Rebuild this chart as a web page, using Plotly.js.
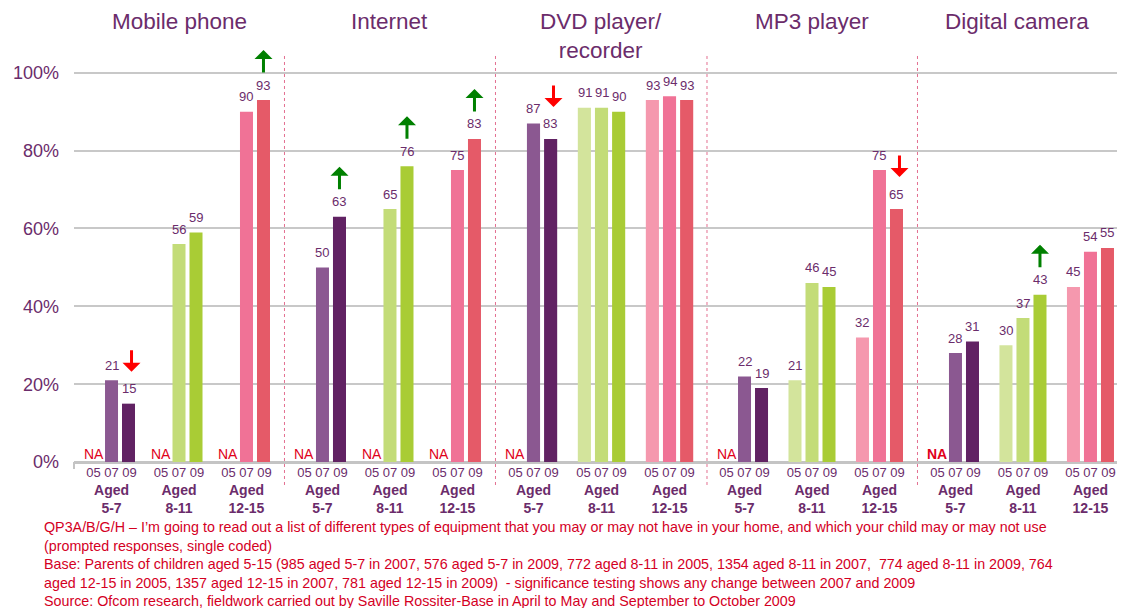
<!DOCTYPE html>
<html>
<head>
<meta charset="utf-8">
<script src="https://cdn.plot.ly/plotly-3.0.1.min.js"></script>
<style>html,body{margin:0;padding:0;background:#fff;}#chart{width:1125px;height:608px;}</style>
</head>
<body>
<div id="chart"></div>
<script>
// ---- data ----
const products = ["Mobile phone", "Internet", "DVD player/<br>recorder", "MP3 player", "Digital camera"];
const ageGroups = ["5-7", "8-11", "12-15"];
const years = ["05", "07", "09"];
const yTickVals = [0, 20, 40, 60, 80, 100];
const yTickText = ["0%", "20%", "40%", "60%", "80%", "100%"];

// values per age group (5-7, 8-11, 12-15); null = NA
const mobile05 = [null, null, null];
const mobile07 = [21, 56, 90];
const mobile09 = [15, 59, 93];
const internet05 = [null, null, null];
const internet07 = [50, 65, 75];
const internet09 = [63, 76, 83];
const dvd05 = [null, 91, 93];
const dvd07 = [87, 91, 94];
const dvd09 = [83, 90, 93];
const mp305 = [null, 21, 32];
const mp307 = [22, 46, 75];
const mp309 = [19, 45, 65];
const camera05 = [null, 30, 45];
const camera07 = [28, 37, 54];
const camera09 = [31, 43, 55];

// significance of change 2007 -> 2009
const mobileSig = ["down", "", "up"];
const internetSig = ["up", "up", "up"];
const dvdSig = ["down", "", ""];
const mp3Sig = ["", "", "down"];
const cameraSig = ["", "up", ""];

const footnote = [
  "QP3A/B/G/H \u2013 I\u2019m going to read out a list of different types of equipment that you may or may not have in your home, and which your child may or may not use",
  "(prompted responses, single coded)",
  "Base: Parents of children aged 5-15 (985 aged 5-7 in 2007, 576 aged 5-7 in 2009, 772 aged 8-11 in 2005, 1354 aged 8-11 in 2007,  774 aged 8-11 in 2009, 764",
  "aged 12-15 in 2005, 1357 aged 12-15 in 2007, 781 aged 12-15 in 2009)  - significance testing shows any change between 2007 and 2009",
  "Source: Ofcom research, fieldwork carried out by Saville Rossiter-Base in April to May and September to October 2009"
];

// ---- styling ----
const panelData = [
  [mobile05, mobile07, mobile09],
  [internet05, internet07, internet09],
  [dvd05, dvd07, dvd09],
  [mp305, mp307, mp309],
  [camera05, camera07, camera09]
];
const panelSig = [mobileSig, internetSig, dvdSig, mp3Sig, cameraSig];
const ageColors = [
  ["#8b5891", "#8b5891", "#612263"],
  ["#d3e49c", "#c3dc78", "#a9cc35"],
  ["#f598ae", "#f07296", "#e55a68"]
];
const PURPLE = "#6b2c6b";
const FONT = "Liberation Sans, Arial, sans-serif";
const domains = [[0, 0.2018], [0.2018, 0.4041], [0.4041, 0.6069], [0.6069, 0.8087], [0.8087, 1]];
const ranges = [[-0.556, 2.563], [-0.563, 2.563], [-0.559, 2.551], [-0.556, 2.563], [-0.563, 2.393]];
const PITCH = 17;

const axId = k => (k === 0 ? "x" : "x" + (k + 1));
const axKey = k => (k === 0 ? "xaxis" : "xaxis" + (k + 1));

const traces = [];
const annotations = [];
const shapes = [];
const layout = {
  width: 1125, height: 608,
  margin: {l: 74, r: 8, t: 65, b: 144},
  paper_bgcolor: "#fff", plot_bgcolor: "#fff",
  font: {family: FONT, color: PURPLE},
  showlegend: false,
  barmode: "group",
  bargap: 0.244,
  bargroupgap: 0.235,
  yaxis: {
    anchor: "x",
    range: [-0.5, 102],
    tickvals: yTickVals, ticktext: yTickText,
    tickfont: {size: 18, color: PURPLE, family: FONT},
    showgrid: true, gridcolor: "#c8c8c8", gridwidth: 2,
    zeroline: true, zerolinecolor: "#c4c4c4", zerolinewidth: 3,
    showline: false, ticks: "",
    ticklabelstandoff: 14,
    fixedrange: true
  },
  annotations: annotations,
  shapes: shapes
};

products.forEach((prod, k) => {
  const xa = axId(k);
  layout[axKey(k)] = {
    domain: domains[k],
    anchor: "y",
    type: "category",
    range: ranges[k],
    tickvals: ageGroups,
    ticktext: ageGroups.map(a => '<span style="font-size:13px">' + years.join(" ") + '</span><br><b>Aged</b><br><b>' + a + '</b>'),
    tickfont: {size: 14, color: PURPLE, family: FONT},
    showgrid: false, zeroline: false, showline: false, ticks: "",
    ticklabelstandoff: -2,
    fixedrange: true
  };
  years.forEach((yr, j) => {
    const vals = panelData[k][j];
    traces.push({
      type: "bar", name: yr, x: ageGroups, y: vals,
      xaxis: xa, yaxis: "y",
      marker: {color: ageGroups.map((a, i) => ageColors[i][j])},
      hoverinfo: "skip"
    });
    vals.forEach((v, i) => {
      if (v === null) {
        annotations.push({
          xref: xa, yref: "y", x: ageGroups[i], y: 0,
          xshift: (j - 1) * PITCH - 1, yshift: -2, yanchor: "bottom",
          text: k === 4 ? "<b>NA</b>" : "NA", showarrow: false,
          font: {size: 14, color: "#e0001a", family: FONT}
        });
      } else {
        annotations.push({
          xref: xa, yref: "y", x: ageGroups[i], y: v,
          xshift: (j - 1) * PITCH, yshift: 15, yanchor: "middle",
          text: String(v), showarrow: false,
          font: {size: 13, color: PURPLE, family: FONT}
        });
      }
    });
  });
  // significance arrows on 2009 bars
  panelSig[k].forEach((s, i) => {
    if (!s) return;
    const v = panelData[k][2][i];
    const up = s === "up";
    annotations.push({
      xref: xa, yref: "y", x: ageGroups[i], y: v,
      xshift: PITCH + (up ? 0 : 3), yshift: up ? 50 : 32,
      text: "", showarrow: true, arrowhead: 1, arrowsize: 1, arrowwidth: 3,
      arrowcolor: up ? "#008000" : "#ff0000",
      ax: 0, ay: up ? 24 : -23
    });
  });
  // panel title
  annotations.push({
    xref: xa + " domain", yref: "paper", x: 0.5, y: 1.145, yanchor: "top",
    text: prod, showarrow: false,
    font: {size: 22.5, color: PURPLE, family: FONT}
  });
  // separator
  if (k > 0) {
    shapes.push({
      type: "line", xref: xa + " domain", yref: "paper",
      x0: 0, x1: 0, y0: -0.0526, y1: 1.025,
      line: {color: "#e36f90", width: 1, dash: "dot"}
    });
  }
});

// small tick at left end of baseline
shapes.push({
  type: "line", xref: "x domain", yref: "paper", x0: 0, x1: 0, y0: 0.005, y1: -0.0125,
  line: {color: "#c4c4c4", width: 2}
});

annotations.push({
  xref: "paper", yref: "paper", x: -0.0307, y: -0.1328, xanchor: "left", yanchor: "top",
  align: "left", showarrow: false,
  text: footnote.join("<br>"),
  font: {size: 14.3, color: "#d4001f", family: FONT}
});

Plotly.newPlot("chart", traces, layout, {displayModeBar: false, staticPlot: true});
</script>
</body>
</html>
